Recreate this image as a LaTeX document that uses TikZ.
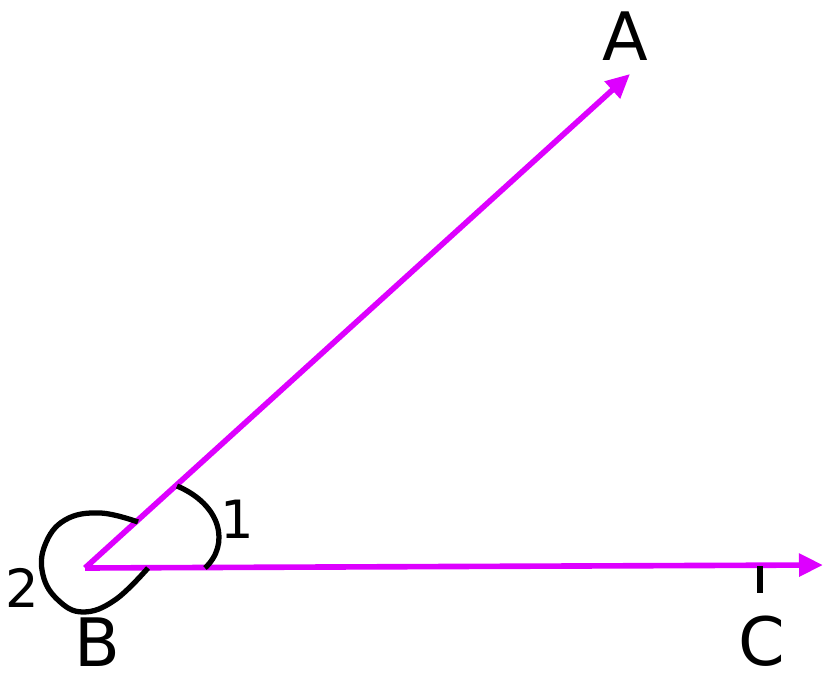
\documentclass[tikz,border=0pt]{standalone}
\usepackage{fontspec}
\setmainfont{DejaVu Sans}
\usetikzlibrary{arrows.meta}
\definecolor{raycol}{RGB}{221,0,255}
\begin{document}
\begin{tikzpicture}[ray/.style={raycol,line width=1.6pt,-{Triangle[length=0.24cm,width=0.22cm]}},
    arcline/.style={black,line width=1.5pt},
    pointlbl/.style={font=\fontsize{19}{22}\selectfont,inner sep=0pt},
    anglbl/.style={font=\fontsize{15}{18}\selectfont,inner sep=0pt}]
                \useasboundingbox (0,0) rectangle (8.28,6.78);
                \coordinate (B) at (0.85,1.10);
                \coordinate (A) at (6.30,6.04);
                \coordinate (C) at (8.23,1.13);
                \coordinate (tickTop) at (7.60,1.12);
                \coordinate (tickBot) at (7.60,0.85);
                   \draw[ray](B)--(A);
                   \draw[ray](B)--(C);
                   \draw[arcline](tickTop)--(tickBot);
                   % angle 1
                   \draw[arcline](2.05,1.10) .. controls (2.30,1.33) and (2.22,1.73) .. (1.77,1.92);
                   % angle 2
                   \draw[arcline] plot[smooth,tension=0.7] coordinates {(1.38,1.56) (1.00,1.65) (0.65,1.58) (0.45,1.33) (0.43,1.03) (0.58,0.78) (0.83,0.66) (1.15,0.78) (1.48,1.10)};
                   \node[pointlbl] (lblA) at (6.25,6.42) {A};
                   \node[pointlbl] (lblB) at (0.97,0.36) {B};
                   \node[pointlbl] (lblC) at (7.62,0.37) {C};
                   \node[anglbl] (lbl1) at (2.37,1.59) {1};
                   \node[anglbl] (lbl2) at (0.22,0.90) {2};
            \end{tikzpicture}
\end{document}
